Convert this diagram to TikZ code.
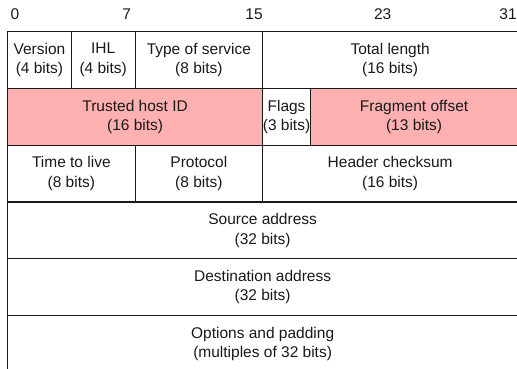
\documentclass[tikz,border=0pt]{standalone}
\usepackage{fontspec}
\setmainfont{Liberation Sans}
\definecolor{pinkfill}{RGB}{255,176,176}
\definecolor{edge}{RGB}{25,25,25}
\newcommand\fs{\fontsize{15.5}{19.5}\selectfont}
\begin{document}
\begin{tikzpicture}[x=1pt,y=-1pt,
  fld/.style={draw=edge, line width=1.2pt, anchor=north west, inner sep=0pt,
              minimum height=56.8pt, align=center, font=\fs, text=black!90},
  hot/.style={fld, fill=pinkfill},
  num/.style={font=\fs, anchor=center, inner sep=0pt, text=black!90}]
\useasboundingbox (0,0) rectangle (517,369);
\clip (0,0) rectangle (517,369);
% bit numbers
\node[num] (n0)  at (15,14)    {0};
\node[num] (n7)  at (126.6,14) {7};
\node[num] (n15) at (254.1,14) {15};
\node[num] (n23) at (382.7,14) {23};
\node[num] (n31) at (508,14)   {31};
% row 1
\node[fld, minimum width=63.76pt]  (ver) at (7,31)      {Version\\(4 bits)};
\node[fld, minimum width=63.76pt]  (ihl) at (70.76,31)  {IHL\\(4 bits)};
\node[fld, minimum width=127.52pt] (tos) at (134.52,31) {Type of service\\(8 bits)};
\node[fld, minimum width=255.04pt] (len) at (262.04,31) {Total length\\(16 bits)};
% row 2
\node[hot, minimum width=255.04pt] (tid) at (7,87.8)      {Trusted host ID\\(16 bits)};
\node[fld, minimum width=47.82pt]  (flg) at (262.04,87.8) {Flags\\(3 bits)};
\node[hot, minimum width=207.22pt] (frg) at (309.86,87.8) {Fragment offset\\(13 bits)};
% row 3
\node[fld, minimum width=127.52pt] (ttl) at (7,144.6)      {Time to live\\(8 bits)};
\node[fld, minimum width=127.52pt] (pro) at (134.52,144.6) {Protocol\\(8 bits)};
\node[fld, minimum width=255.04pt] (chk) at (262.04,144.6) {Header checksum\\(16 bits)};
% rows 4-6
\node[fld, minimum width=510.08pt] (src) at (7,201.4) {Source address\\(32 bits)};
\node[fld, minimum width=510.08pt] (dst) at (7,258.2) {Destination address\\(32 bits)};
\node[fld, minimum width=510.08pt] (opt) at (7,315)   {Options and padding\\(multiples of 32 bits)};
\end{tikzpicture}
\end{document}
